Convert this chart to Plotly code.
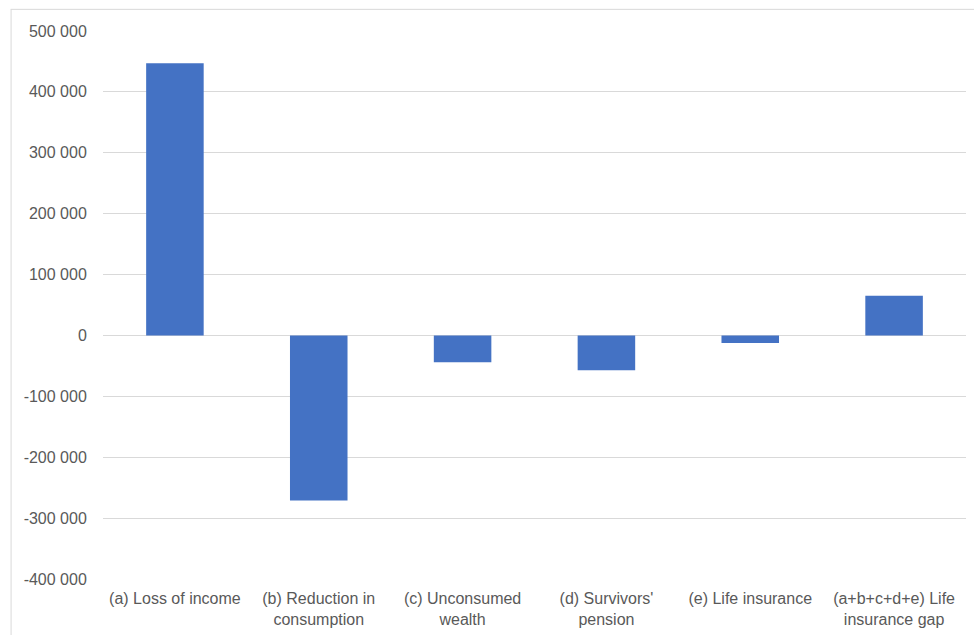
import plotly.graph_objects as go

categories = [
    "(a) Loss of income",
    "(b) Reduction in<br>consumption",
    "(c) Unconsumed<br>wealth",
    "(d) Survivors'<br>pension",
    "(e) Life insurance",
    "(a+b+c+d+e) Life<br>insurance gap",
]
values = [447000, -271000, -44000, -57000, -12500, 65000]
tick_values = [500000, 400000, 300000, 200000, 100000, 0, -100000, -200000, -300000, -400000]


def fmt(v):
    s = f"{abs(v):,}".replace(",", " ")
    return ("-" if v < 0 else "") + s


tick_text = [fmt(v) for v in tick_values]

fig = go.Figure(
    go.Bar(x=categories, y=values, marker=dict(color="#4472C4", line=dict(width=0)))
)

font = dict(family="Liberation Sans, Arial", size=16, color="#595959")

fig.update_layout(
    width=974,
    height=635,
    margin=dict(l=103, r=8, t=31, b=56),
    paper_bgcolor="white",
    plot_bgcolor="white",
    bargap=0.6,
    showlegend=False,
    font=font,
    shapes=[
        dict(type="line", xref="paper", yref="paper", x0=-0.107, x1=1.02, y0=1.0395, y1=1.0395,
             line=dict(color="#D9D9D9", width=1)),
        dict(type="line", xref="paper", yref="paper", x0=-0.1065, x1=-0.1065, y0=1.0395, y1=-0.2,
             line=dict(color="#D9D9D9", width=1)),
    ],
)
fig.update_xaxes(
    showgrid=False,
    showline=False,
    ticks="outside",
    ticklen=5,
    tickcolor="rgba(0,0,0,0)",
    tickfont=font,
)
fig.update_yaxes(
    range=[-400000, 500000],
    tickvals=tick_values,
    ticktext=tick_text,
    showgrid=True,
    gridcolor="#D9D9D9",
    gridwidth=1,
    zeroline=True,
    zerolinecolor="#D9D9D9",
    zerolinewidth=1,
    ticks="outside",
    ticklen=12,
    tickcolor="rgba(0,0,0,0)",
    tickfont=font,
)

fig.write_html("out.html")
